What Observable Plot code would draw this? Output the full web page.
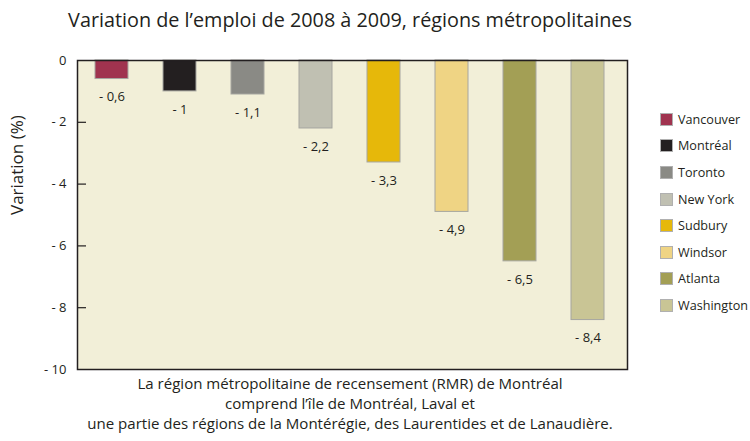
<!DOCTYPE html>
<html><head><meta charset="utf-8">
<script src="https://cdn.jsdelivr.net/npm/d3@7"></script>
<script src="https://cdn.jsdelivr.net/npm/@observablehq/plot@0.6"></script>
<style>
body{margin:0;background:#fff;}
#wrap{position:relative;width:750px;height:441px;font-family:"Open Sans",sans-serif;color:#231f20;}
#title{position:absolute;top:6px;left:0;width:700px;text-align:center;font-size:20px;line-height:28px;white-space:nowrap;}
#caption{position:absolute;top:373px;left:0;width:700px;text-align:center;font-size:15px;line-height:20px;white-space:nowrap;}
#legend{position:absolute;left:660px;top:106px;font-size:13px;white-space:nowrap;}
.row{height:26.6px;display:flex;align-items:center;}
.sw{width:11px;height:11px;border:1px solid #b0b0b0;margin-right:5px;flex:none;}
</style></head><body>
<div id="wrap">
<div id="title"><span id="tspan"></span></div>
<div id="chart"></div>
<div id="legend"></div>
<div id="caption"></div>
</div>
<script>
const regions = ["Vancouver","Montréal","Toronto","New York","Sudbury","Windsor","Atlanta","Washington"];
const values = [-0.6,-1,-1.1,-2.2,-3.3,-4.9,-6.5,-8.4];
const colors = ["#a0334f","#231f20","#8a8a85","#c0c0b2","#e6b80a","#efd484","#a39f55","#c9c595"];
const yTicks = [0,-2,-4,-6,-8,-10];
const titleText = "Variation de l\u2019emploi de 2008 à 2009, régions métropolitaines";
const yLabel = "Variation (%)";
const captionLines = ["La région métropolitaine de recensement (RMR) de Montréal","comprend l\u2019île de Montréal, Laval et","une partie des régions de la Montérégie, des Laurentides et de Lanaudière."];

const data = regions.map((r,i)=>({region:r, value:values[i]}));
const fmt = v => v===0 ? "0" : "- " + String(Math.abs(v)).replace(".", ",");
const font = "'Open Sans',sans-serif";
const W = 750, H = 441, mL = 77, mR = 123, mT = 60, mB = 72, tickLen = 9;

const chart = Plot.plot({
  width:W, height:H,
  marginLeft:mL, marginRight:mR, marginTop:mT, marginBottom:mB,
  style:{fontFamily:font, fontSize:"13px", color:"#231f20", background:"transparent"},
  x:{domain:regions, axis:null, paddingInner:0.5175, paddingOuter:0.235, insetRight:6, align:0.5},
  y:{domain:[-10,0]},
  color:{domain:regions, range:colors},
  marks:[
    Plot.frame({fill:"#f2efd8", stroke:null}),
    Plot.barY(data,{x:"region", y1:0, y2:"value", fill:"region", stroke:"#a6a6a0", strokeWidth:1}),
    Plot.text(data,{x:"region", y:"value", text:d=>fmt(d.value), dy:18, fontSize:13, fill:"#231f20"}),
    Plot.axisY({ticks:yTicks, tickFormat:fmt, tickSize:0, tickPadding:11, fontSize:13, label:null}),
    Plot.ruleY(yTicks.filter(t=>t!==0 && t!==-10),{y:d=>d, stroke:"#231f20", strokeWidth:1.2, insetRight:W-mL-mR-tickLen}),
    Plot.frame({stroke:"#231f20", strokeWidth:1.5}),
    Plot.text([yLabel],{text:d=>d, frameAnchor:"left", rotate:-90, dx:-60, fontSize:17, fill:"#231f20"})
  ]
});
document.getElementById("chart").appendChild(chart);
const tspan = document.getElementById("tspan");
tspan.textContent = titleText;
document.getElementById("caption").innerHTML = captionLines.map((l,i)=>`<div><span id="cap${i}">${l}</span></div>`).join("");
document.getElementById("legend").innerHTML = regions.map((r,i)=>`<div class="row"><div class="sw" style="background:${colors[i]}"></div><span id="leg${i}">${r}</span></div>`).join("");

function fitSize(el, target, host){
  const w = el.getBoundingClientRect().width;
  const fs = parseFloat(getComputedStyle(host).fontSize);
  host.style.fontSize = (fs*target/w) + "px";
}
fitSize(tspan, 564, document.getElementById("title"));
fitSize(document.getElementById("cap2"), 526, document.getElementById("caption"));
fitSize(document.getElementById("leg7"), 70, document.getElementById("legend"));
</script>
</body></html>
